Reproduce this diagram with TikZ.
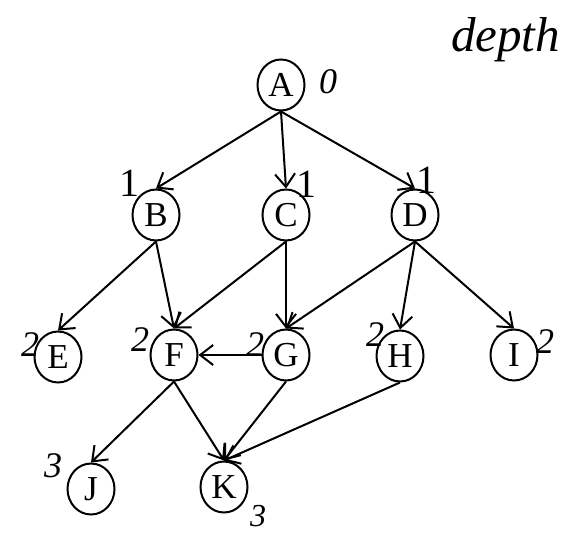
\documentclass[tikz,border=0pt]{standalone}
\usepackage{fontspec}
\setmainfont{Liberation Serif}
\usetikzlibrary{arrows.meta,shapes.geometric}
\tikzset{
  vtx/.style={ellipse,draw,line width=2pt,minimum width=47pt,minimum height=51pt,inner sep=0pt,font=\fontsize{35}{35}\selectfont},
  edge/.style={line width=2pt,-{Straight Barb[length=13pt,width=20pt,line width=2pt]}},
  hand/.style={font=\fontsize{36}{36}\selectfont\itshape,inner sep=0pt}
}
\begin{document}
\begin{tikzpicture}[x=1pt,y=-1pt]
\useasboundingbox (0,0) rectangle (567,534);
\node[vtx] (A) at (281,85) {A};
\node[vtx] (B) at (156,215) {B};
\node[vtx] (C) at (286,215) {C};
\node[vtx] (D) at (415,215) {D};
\node[vtx] (E) at (58,357) {E};
\node[vtx] (F) at (174,355) {F};
\node[vtx] (G) at (286,355) {G};
\node[vtx] (H) at (400,356) {H};
\node[vtx] (I) at (514,355) {I};
\node[vtx] (J) at (91,489) {J};
\node[vtx] (K) at (224,487) {K};
\draw[edge] (A.south) -- (B.north);
\draw[edge] (A.south) -- (C.north);
\draw[edge] (A.south) -- (D.north);
\draw[edge] (B.south) -- (E.north);
\draw[edge] (B.south) -- (F.north);
\draw[edge] (C.south) -- (F.north);
\draw[edge] (C.south) -- (G.north);
\draw[edge] (D.south) -- (G.north);
\draw[edge] (D.south) -- (H.north);
\draw[edge] (D.south) -- (I.north);
\draw[edge] (G.west) -- (F.east);
\draw[edge] (F.south) -- (J.north);
\draw[edge] (F.south) -- (K.north);
\draw[edge] (G.south) -- (K.north);
\draw[edge] (H.south) -- (K.north);
% handwritten annotations
\node[hand,font=\fontsize{49}{49}\selectfont\itshape,anchor=base west] (depth) at (451,52) {depth};
\node[hand] (d0) at (328,82) {0};
\node[hand,font=\fontsize{40}{40}\selectfont] (d1b) at (129,183) {1};
\node[hand,font=\fontsize{40}{40}\selectfont] (d1c) at (306,184) {1};
\node[hand,font=\fontsize{40}{40}\selectfont] (d1d) at (426,180) {1};
\node[hand] (d2e) at (30,345) {2};
\node[hand] (d2f) at (140,340) {2};
\node[hand] (d2g) at (255,345) {2};
\node[hand] (d2h) at (375,335) {2};
\node[hand] (d2i) at (545,342) {2};
\node[hand] (d3j) at (53,466) {3};
\node[hand,font=\fontsize{32}{32}\selectfont\itshape] (d3k) at (258,516) {3};
\end{tikzpicture}
\end{document}
